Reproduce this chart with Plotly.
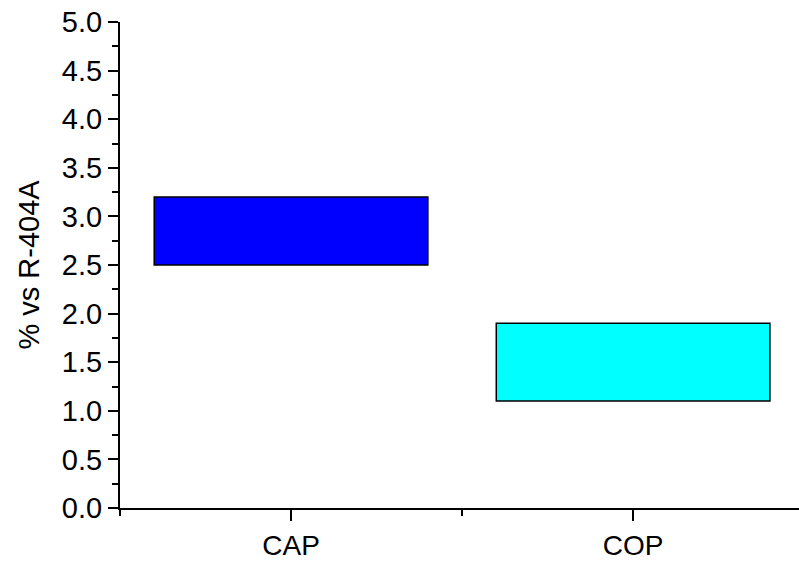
import plotly.graph_objects as go

# Relative change vs R-404A: each bar floats from a low to a high value
categories = ["CAP", "COP"]
low_values = [2.5, 1.1]
high_values = [3.2, 1.9]
bar_colors = ["#0000ff", "#00ffff"]

y_title = "% vs R-404A"

positions = list(range(1, len(categories) + 1))
spans = [h - l for h, l in zip(high_values, low_values)]

FONT = "Liberation Sans, Arial, sans-serif"

fig = go.Figure(
    go.Bar(
        x=positions,
        y=spans,
        base=low_values,
        width=0.8,
        marker=dict(color=bar_colors, line=dict(color="black", width=1.5)),
        showlegend=False,
    )
)

fig.update_layout(
    width=799,
    height=561,
    margin=dict(l=120, r=0, t=22, b=48),
    plot_bgcolor="white",
    paper_bgcolor="white",
    font=dict(family=FONT, size=29, color="black"),
)

fig.update_xaxes(
    range=[0.5, 2.485],
    tickmode="array",
    tickvals=positions,
    ticktext=categories,
    showline=True,
    linecolor="black",
    linewidth=2,
    ticks="outside",
    ticklen=11,
    tickwidth=2,
    tickcolor="black",
    showgrid=False,
    zeroline=False,
    tickfont=dict(size=28),
    minor=dict(
        tickmode="array",
        tickvals=[0.5, 1.5, 2.5],
        ticks="outside",
        ticklen=6,
        tickwidth=2,
        tickcolor="black",
        showgrid=False,
    ),
)

fig.update_yaxes(
    range=[0, 5],
    dtick=0.5,
    tickformat=".1f",
    showline=True,
    linecolor="black",
    linewidth=2,
    ticks="outside",
    ticklen=10,
    tickwidth=2,
    tickcolor="black",
    showgrid=False,
    zeroline=False,
    title=dict(text=y_title, font=dict(size=29), standoff=14),
    minor=dict(
        dtick=0.25,
        ticks="outside",
        ticklen=6,
        tickwidth=2,
        tickcolor="black",
        showgrid=False,
    ),
)

fig.write_html("out.html")
